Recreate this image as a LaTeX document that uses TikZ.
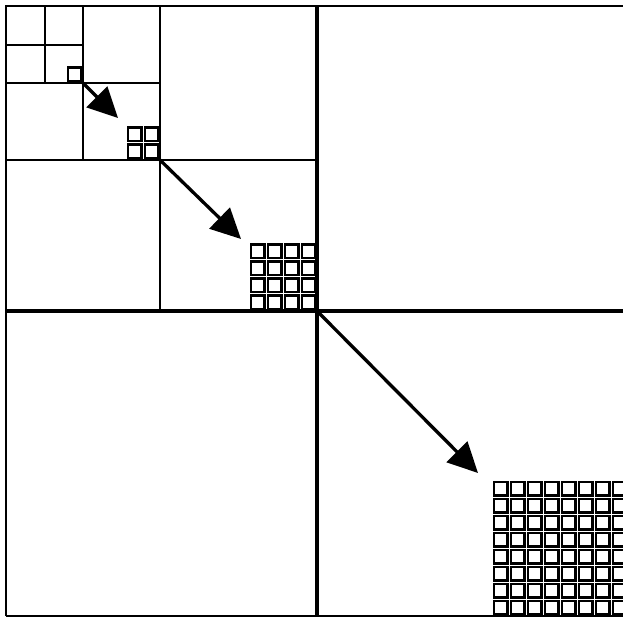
\documentclass[tikz,border=0pt]{standalone}
\usetikzlibrary{arrows.meta}
\begin{document}
\begin{tikzpicture}[x=1pt,y=-1pt,
  frame/.style={line width=2.5pt},
  mainline/.style={line width=3.5pt},
  cellbox/.style={line width=2.7pt},
  jump/.style={line width=3.3pt,-{Triangle[length=30pt,width=29pt]}}]
\useasboundingbox (0,0) rectangle (623,617);
\clip (0,0) rectangle (623,617);
% corners of the successive quadrants
\coordinate (c1) at (83,83);
\coordinate (c2) at (160,160);
\coordinate (c3) at (317,311);
\coordinate (t1) at (118,118);
\coordinate (t2) at (241,239);
\coordinate (t3) at (478,473);
% outer frame
\draw[frame] (6,616) -- (6,6) -- (640,6);
\draw[frame] (6,616) -- (640,616);
% main cross
\draw[mainline] (317,6) -- (317,616);
\draw[mainline] (6,311) -- (640,311);
% level 2 subdivision
\draw[frame] (160,6) -- (160,311);
\draw[frame] (6,160) -- (317,160);
% level 3 subdivision
\draw[frame] (83,6) -- (83,160);
\draw[frame] (6,83) -- (160,83);
% level 4 subdivision
\draw[frame] (45,6) -- (45,83);
\draw[frame] (6,45) -- (83,45);
% grids of cells
\foreach \cx/\cy/\n in {83/83/1, 160/160/2, 317/311/4, 628/616/8}{
  \foreach \i in {1,...,\n}{
    \foreach \j in {1,...,\n}{
      \draw[cellbox] ({\cx-17*\i+1.85},{\cy-17*\j+1.85}) rectangle ({\cx-17*(\i-1)-1.85},{\cy-17*(\j-1)-1.85});
    }
  }
}
% arrows
\draw[jump] (c1) -- (t1);
\draw[jump] (c2) -- (t2);
\draw[jump] (c3) -- (t3);
\end{tikzpicture}
\end{document}
